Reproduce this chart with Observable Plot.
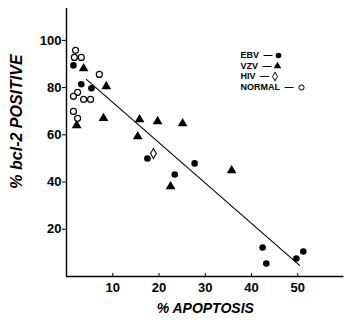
<!DOCTYPE html>
<html>
<head>
<meta charset="utf-8">
<script src="https://cdn.jsdelivr.net/npm/d3@7"></script>
<script src="https://cdn.jsdelivr.net/npm/@observablehq/plot@0.6"></script>
<style>
  html, body { margin: 0; padding: 0; background: #fff; }
</style>
</head>
<body>
<div id="chart"></div>
<script>
// ---- data ----
const ebvX = [1.5, 3.2, 5.4, 17.5, 27.7, 23.4, 42.4, 43.2, 49.7, 51.2];
const ebvY = [89.4, 81.4, 79.7, 50.0, 47.9, 43.2, 12.3, 5.5, 7.6, 10.6];
const vzvX = [3.7, 8.6, 2.2, 8.0, 15.8, 19.7, 25.1, 15.4, 22.5, 35.7];
const vzvY = [88.1, 80.5, 64.0, 67.0, 66.5, 65.7, 64.8, 59.3, 38.1, 44.9];
const hivX = [18.8];
const hivY = [52.1];
const normalX = [1.95, 1.7, 3.2, 7.1, 2.4, 1.5, 3.7, 5.2, 1.5, 2.4];
const normalY = [95.8, 92.8, 92.8, 85.6, 78.0, 76.3, 75.0, 75.0, 69.9, 67.0];
const fitX = [4.3, 50.4];
const fitY = [83.5, 4.7];
const xTicks = [10, 20, 30, 40, 50];
const yTicks = [20, 40, 60, 80, 100];
const xLabel = "% APOPTOSIS";
const yLabel = "% bcl-2 POSITIVE";
const legendLabels = ["EBV", "VZV", "HIV", "NORMAL"];
const legendSymbols = ["circle", "triangle", "diamond", "circle"];
const legendFilled = [true, true, false, false];

// ---- layout ----
const W = 352, H = 331;
const ML = 66, MR = 8.5, MT = 8, MB = 55;
const xDom = [0, 60], yDom = [0, 113.5];
const pxPerX = (W - ML - MR) / (xDom[1] - xDom[0]);
const pxPerY = (H - MT - MB) / (yDom[1] - yDom[0]);
const toX = px => xDom[0] + (px - ML) / pxPerX;
const toY = py => yDom[0] + (H - MB - py) / pxPerY;

const zip = (xs, ys) => xs.map((x, i) => ({x, y: ys[i]}));
const ebv = zip(ebvX, ebvY);
const vzv = zip(vzvX, vzvY);
const hiv = zip(hivX, hivY);
const normal = zip(normalX, normalY);
const fit = zip(fitX, fitY);

const FONT = "'Liberation Sans', Arial, Helvetica, sans-serif";
const legendFontSize = 9;
const ctx = document.createElement("canvas").getContext("2d");
ctx.font = `bold ${legendFontSize}px ${FONT}`;
const legendLeftPx = 240;
const legendRowPx = [55, 65.5, 76, 87];
const legend = legendLabels.map((label, i) => {
  const txt = label + "\u2002\u2014";
  const w = ctx.measureText(txt).width;
  return {
    text: txt,
    tx: toX(legendLeftPx),
    ty: toY(legendRowPx[i]),
    mx: toX(legendLeftPx + w + (i === 3 ? 8 : 6)),
    symbol: legendSymbols[i],
    filled: legendFilled[i]
  };
});

const chart = Plot.plot({
  width: W, height: H,
  marginLeft: ML, marginRight: MR, marginTop: MT, marginBottom: MB,
  x: {domain: xDom},
  y: {domain: yDom},
  style: {fontFamily: FONT, fontWeight: "bold", fontSize: "13px", background: "#fff", color: "#000"},
  marks: [
    Plot.ruleX([0], {stroke: "#000", strokeWidth: 1.4}),
    Plot.ruleY([0], {stroke: "#000", strokeWidth: 1.4}),
    Plot.axisY({ticks: yTicks, tickSize: 4, tickPadding: 1, label: null, fontSize: 13, fontWeight: "bold"}),
    Plot.axisX({ticks: xTicks, tickSize: 0, tickPadding: 6, label: null, fontSize: 13, fontWeight: "bold"}),
    Plot.ruleX(xTicks, {y1: 0, y2: 1.3, stroke: "#000", strokeWidth: 1}),
    Plot.line(fit, {x: "x", y: "y", stroke: "#000", strokeWidth: 1.1}),
    Plot.dot(ebv, {x: "x", y: "y", symbol: "circle", r: 3.3, fill: "#000", stroke: "none"}),
    Plot.dot(vzv, {x: "x", y: "y", symbol: "triangle", r: 3.6, fill: "#000", stroke: "none"}),
    Plot.dot(hiv, {x: "x", y: "y", symbol: "diamond", r: 3, fill: "#fff", stroke: "#000", strokeWidth: 1.1}),
    Plot.dot(normal, {x: "x", y: "y", symbol: "circle", r: 3, fill: "#fff", stroke: "#000", strokeWidth: 1.2}),
    Plot.text([xLabel], {text: d => d, frameAnchor: "bottom", dy: 36, fontSize: 14, fontWeight: "bold", fontStyle: "italic", textAnchor: "middle"}),
    Plot.text([yLabel], {text: d => d, frameAnchor: "left", y: () => toY(121), dx: -50, rotate: -90, fontSize: 16, fontWeight: "bold", fontStyle: "italic", textAnchor: "middle"}),
    Plot.text(legend, {x: "tx", y: "ty", text: "text", textAnchor: "start", fontSize: legendFontSize, fontWeight: "bold"}),
    Plot.dot(legend.filter(d => d.filled), {x: "mx", y: "ty", symbol: "symbol", r: 2.8, fill: "#000", stroke: "none"}),
    Plot.dot(legend.filter(d => !d.filled), {x: "mx", y: "ty", symbol: "symbol", r: 2.6, fill: "#fff", stroke: "#000", strokeWidth: 1})
  ]
});
document.getElementById("chart").appendChild(chart);
</script>
</body>
</html>
